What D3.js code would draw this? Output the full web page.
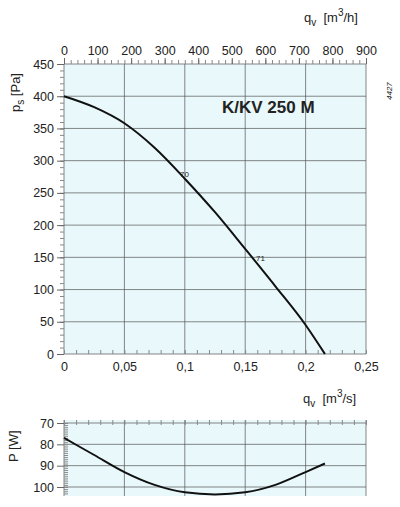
<!DOCTYPE html><html><head><script src="https://cdn.jsdelivr.net/npm/d3@7"></script>
<style>body{margin:0;background:#fff}text{font-family:Arial,"Liberation Sans",sans-serif;fill:#222}</style></head><body>
<svg id="c" width="400" height="507"></svg>
<script>
const qS=[0,0.025,0.05,0.075,0.1,0.125,0.15,0.175,0.2,0.216];
const ps=[400,383,358,320,272,220,163,105,45,0];
const pw=[77,85,93,99,102.5,103.5,102.5,99,93,89];
const xTicks=[0,0.05,0.1,0.15,0.2,0.25];
const xTickLabels=["0","0,05","0,1","0,15","0,2","0,25"];
const hTicks=[0,100,200,300,400,500,600,700,800,900];
const pTicks=[0,50,100,150,200,250,300,350,400,450];
const wTicks=[70,80,90,100];
const svg=d3.select("#c");
const x=d3.scaleLinear().domain([0,0.25]).range([64,366]);
const xh=d3.scaleLinear().domain([0,900]).range([64,366]);
const y=d3.scaleLinear().domain([0,450]).range([354,64]);
const y2=d3.scaleLinear().domain([70,100]).range([423,487]);
const grid="#555";
svg.append("rect").attr("x",64).attr("y",64).attr("width",302).attr("height",290).attr("fill","#e9f8fb");
pTicks.forEach(v=>svg.append("line").attr("x1",64).attr("x2",366).attr("y1",y(v)).attr("y2",y(v)).attr("stroke",grid).attr("stroke-width",0.7));
xTicks.forEach(v=>svg.append("line").attr("x1",x(v)).attr("x2",x(v)).attr("y1",64).attr("y2",354).attr("stroke",grid).attr("stroke-width",0.7));
svg.append("g").attr("transform","translate(0,64)").call(d3.axisTop(xh).tickValues(d3.range(0,901,20)).tickSize(4).tickFormat("")).call(g=>{g.select(".domain").remove();g.selectAll("line").attr("stroke","#888")});
svg.append("g").attr("transform","translate(0,64)").call(d3.axisTop(xh).tickValues(hTicks).tickSize(6).tickFormat(d=>d)).call(g=>{g.select(".domain").remove();g.selectAll("line").attr("stroke","#666");g.selectAll("text").attr("font-size",12.5).attr("fill","#222")});
svg.append("g").attr("transform","translate(64,0)").call(d3.axisLeft(y).tickValues(d3.range(0,451,10)).tickSize(4).tickFormat("")).call(g=>{g.select(".domain").remove();g.selectAll("line").attr("stroke","#888")});
svg.append("g").attr("transform","translate(64,0)").call(d3.axisLeft(y).tickValues(pTicks).tickSize(7).tickFormat(d=>d)).call(g=>{g.select(".domain").remove();g.selectAll("line").attr("stroke","#666");g.selectAll("text").attr("font-size",12.5).attr("fill","#222")});
svg.append("g").attr("transform","translate(0,354)").call(d3.axisBottom(x).tickValues(d3.range(0,0.2501,0.01)).tickSize(4).tickFormat("")).call(g=>{g.select(".domain").remove();g.selectAll("line").attr("stroke","#888").attr("transform","translate(0,-4)")});
svg.append("g").attr("transform","translate(0,354)").call(d3.axisBottom(x).tickValues(xTicks).tickSize(0).tickPadding(8).tickFormat((d,i)=>xTickLabels[i])).call(g=>{g.select(".domain").remove();g.selectAll("text").attr("font-size",12.5).attr("fill","#222")});
svg.append("path").datum(qS.map((q,i)=>[q,ps[i]])).attr("d",d3.line().x(d=>x(d[0])).y(d=>y(d[1])).curve(d3.curveMonotoneX)).attr("fill","none").attr("stroke","#111").attr("stroke-width",2);
svg.append("text").attr("x",180).attr("y",177).attr("font-size",8).text("70");
svg.append("text").attr("x",256).attr("y",261).attr("font-size",8).text("71");
svg.append("text").attr("x",222).attr("y",113).attr("font-size",17).attr("font-weight","bold").attr("fill","#111").text("K/KV 250 M");
svg.append("text").attr("transform","translate(392,100) rotate(-90)").attr("font-size",8).attr("font-style","italic").text("4427");
svg.append("text").attr("x",304).attr("y",22).attr("font-size",13).html('q<tspan dy="4" font-size="10">v</tspan><tspan dy="-4">\u00a0\u00a0[m</tspan><tspan dy="-6" font-size="10">3</tspan><tspan dy="6">/h]</tspan>');
svg.append("text").attr("x",303).attr("y",403).attr("font-size",13).html('q<tspan dy="4" font-size="10">v</tspan><tspan dy="-4">\u00a0\u00a0[m</tspan><tspan dy="-6" font-size="10">3</tspan><tspan dy="6">/s]</tspan>');
svg.append("text").attr("transform","translate(20,112) rotate(-90)").attr("font-size",13).html('p<tspan dy="4" font-size="10">s</tspan><tspan dy="-4">\u00a0[Pa]</tspan>');
svg.append("rect").attr("x",64).attr("y",420).attr("width",302).attr("height",76).attr("fill","#e9f8fb");
wTicks.forEach(v=>svg.append("line").attr("x1",64).attr("x2",366).attr("y1",y2(v)).attr("y2",y2(v)).attr("stroke",grid).attr("stroke-width",0.7));
xTicks.forEach(v=>svg.append("line").attr("x1",x(v)).attr("x2",x(v)).attr("y1",420).attr("y2",496).attr("stroke",grid).attr("stroke-width",0.7));
svg.append("g").attr("transform","translate(0,420)").call(d3.axisBottom(x).tickValues(d3.range(0,0.2501,0.01)).tickSize(5).tickFormat("")).call(g=>{g.select(".domain").remove();g.selectAll("line").attr("stroke","#888")});
svg.append("g").attr("transform","translate(64,0)").call(d3.axisLeft(y2).tickValues(d3.range(70,104,1)).tickSize(4).tickFormat("")).call(g=>{g.select(".domain").remove();g.selectAll("line").attr("stroke","#888").attr("transform","translate(4,0)")});
svg.append("g").attr("transform","translate(64,0)").call(d3.axisLeft(y2).tickValues(wTicks).tickSize(7).tickFormat(d=>d)).call(g=>{g.select(".domain").remove();g.selectAll("line").attr("stroke","#666");g.selectAll("text").attr("font-size",12.5).attr("fill","#222")});
svg.append("path").datum(qS.map((q,i)=>[q,pw[i]])).attr("d",d3.line().x(d=>x(d[0])).y(d=>y2(d[1])).curve(d3.curveMonotoneX)).attr("fill","none").attr("stroke","#111").attr("stroke-width",2);
svg.append("text").attr("transform","translate(18,462) rotate(-90)").attr("font-size",13).text("P [W]");
</script></body></html>
